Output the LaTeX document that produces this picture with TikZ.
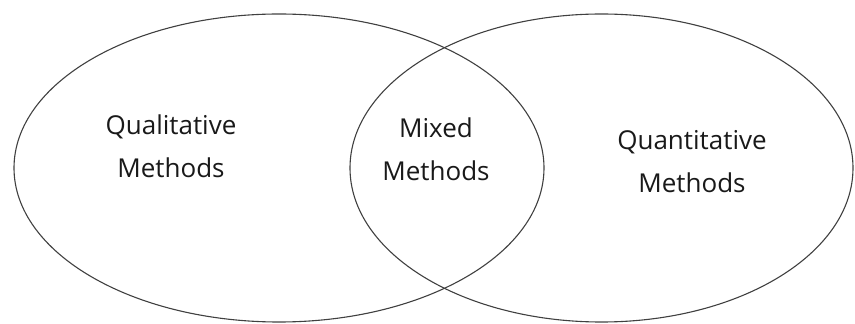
\documentclass[tikz,border=0pt]{standalone}
\usepackage{fontspec}
\setmainfont{Open Sans}
\usepackage{tikz}

\begin{document}
\begin{tikzpicture}
 [x=1pt, y=1pt,
  set line/.style={draw=black!75, line width=1.1pt},
  set label/.style={align=center, font=\fontsize{26}{43}\selectfont, text=black!90}]

\useasboundingbox (0,0) rectangle (855,324);

\draw[set line] (279,156) ellipse [x radius=265, y radius=154];
\draw[set line] (601.5,156) ellipse [x radius=251.5, y radius=154];

\node[set label] (qual) at (171,177.5) {Qualitative\\Methods};
\node[set label] (mixed) at (436,175) {Mixed\\Methods};
\node[set label] (quant) at (692,162.5) {Quantitative\\Methods};

\end{tikzpicture}
\end{document}
